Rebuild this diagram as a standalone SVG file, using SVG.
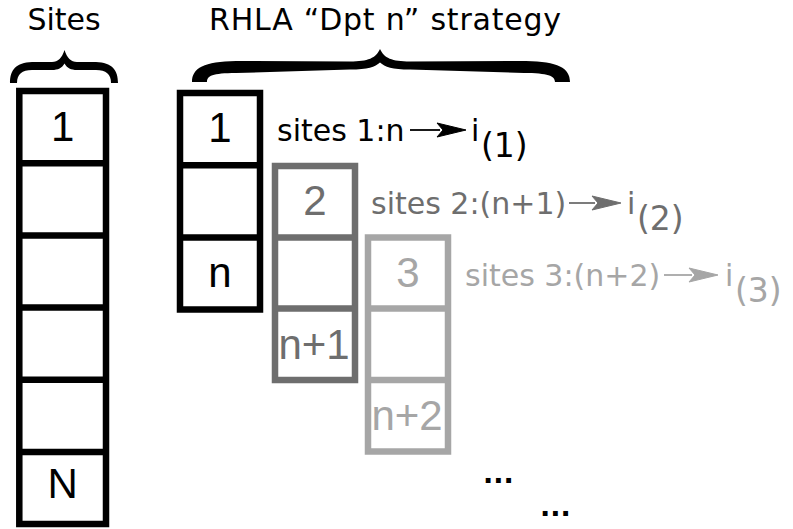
<svg xmlns="http://www.w3.org/2000/svg" width="793" height="529" viewBox="0 0 793 529">
<style>
.t{font-family:"DejaVu Sans","Liberation Sans",sans-serif;font-size:30px}
.s{font-family:"DejaVu Sans","Liberation Sans",sans-serif;font-size:33px}
.c{font-family:"Liberation Sans","DejaVu Sans",sans-serif;font-size:42px;text-anchor:middle}
.box{fill:none;stroke-width:6.5}
.k{stroke:#000;fill:#000}
.g1{stroke:#6e6e6e;fill:#6e6e6e}
.g2{stroke:#a6a6a6;fill:#a6a6a6}
.box.k,.box.g1,.box.g2{fill:none}
.sep{stroke-width:6.5}
.ln{stroke-width:1.8;fill:none}
.dots{font-family:"DejaVu Sans","Liberation Sans",sans-serif;font-size:27px;font-weight:bold}
</style>
<rect width="793" height="529" fill="#fff"/>
<g id="headers">
<text class="t" x="64" y="29.5" text-anchor="middle">Sites</text>
<text class="t" x="209" y="29.5" textLength="352" lengthAdjust="spacing">RHLA “Dpt n” strategy</text>
</g>
<g id="braces">
<path fill="#000" d="M10,83 C10,70 16,62.5 32,62 L52,62 C58,62 62,58 64.5,50 C67,58 71,62 77,62 L96,62 C112,62.5 118,70 118,83 L111,83 C111,74 106,70 96,70 L77,70 C71,70 67,68 64.5,63.5 C62,68 58,70 52,70 L32,70 C22,70 17,74 17,83 Z"/>
<path fill="#000" d="M192,82 C192,68 204,61.5 236,61 L350,61.5 C368,61.5 376,58 380,49 C384,58 392,61.5 410,61.5 L526,61 C558,61.5 570,68 570,82 L555,82 C555,76 548,73 524,73 L410,69.5 C392,69.5 385,67 380,62.5 C375,67 368,69.5 350,69.5 L236,73 C212,73 207,76 207,82 Z"/>
</g>
<g id="col-sites">
<rect class="box k" x="19.3" y="91" width="86.7" height="433"/>
<path class="sep k" d="M19.3,163.2H106M19.3,235.4H106M19.3,307.6H106M19.3,379.8H106M19.3,452H106"/>
<text class="c" x="62.7" y="141" fill="#000">1</text>
<text class="c" x="62.7" y="498" fill="#000">N</text>
</g>
<g id="window-1">
<rect class="box k" x="180" y="93" width="80" height="216.5"/>
<path class="sep k" d="M180,165.3H260M180,237.5H260"/>
<text class="c" x="220" y="142" fill="#000">1</text>
<text class="c" x="220" y="287" fill="#000">n</text>
</g>
<g id="window-2">
<rect class="box g1" x="275" y="166" width="80" height="214"/>
<path class="sep g1" d="M275,237.5H355M275,308.5H355"/>
<text class="c" x="315" y="215" fill="#6e6e6e">2</text>
<text class="c" x="314" y="359" fill="#6e6e6e">n+1</text>
</g>
<g id="window-3">
<rect class="box g2" x="368" y="237.5" width="80" height="214"/>
<path class="sep g2" d="M368,308.5H448M368,380H448"/>
<text class="c" x="408" y="287" fill="#a6a6a6">3</text>
<text class="c" x="407" y="430" fill="#a6a6a6">n+2</text>
</g>
<g id="connectors">
<path class="ln k" d="M410,130H440"/>
<path class="k" stroke="none" d="M466,130L437,123L443,130L437,137Z"/>
<path class="ln g1" d="M569,203H595"/>
<path class="g1" stroke="none" d="M621,203L592,196L598,203L592,210Z"/>
<path class="ln g2" d="M664,275H692"/>
<path class="g2" stroke="none" d="M718,275L689,268L695,275L689,282Z"/>
</g>
<g id="labels">
<text class="t" x="277" y="141" fill="#000">sites 1:n</text>
<text class="t" x="471" y="141" fill="#000">i</text>
<text class="s" x="481" y="157" fill="#000">(1)</text>
<text class="t" x="371" y="214" fill="#6e6e6e">sites 2:(n+1)</text>
<text class="t" x="627" y="214" fill="#6e6e6e">i</text>
<text class="s" x="637" y="230" fill="#6e6e6e">(2)</text>
<text class="t" x="465" y="286" fill="#a6a6a6">sites 3:(n+2)</text>
<text class="t" x="725" y="286" fill="#a6a6a6">i</text>
<text class="s" x="735" y="302" fill="#a6a6a6">(3)</text>
<text class="dots" x="483" y="483" fill="#000">...</text>
<text class="dots" x="540" y="516" fill="#000">...</text>
</g>
</svg>
